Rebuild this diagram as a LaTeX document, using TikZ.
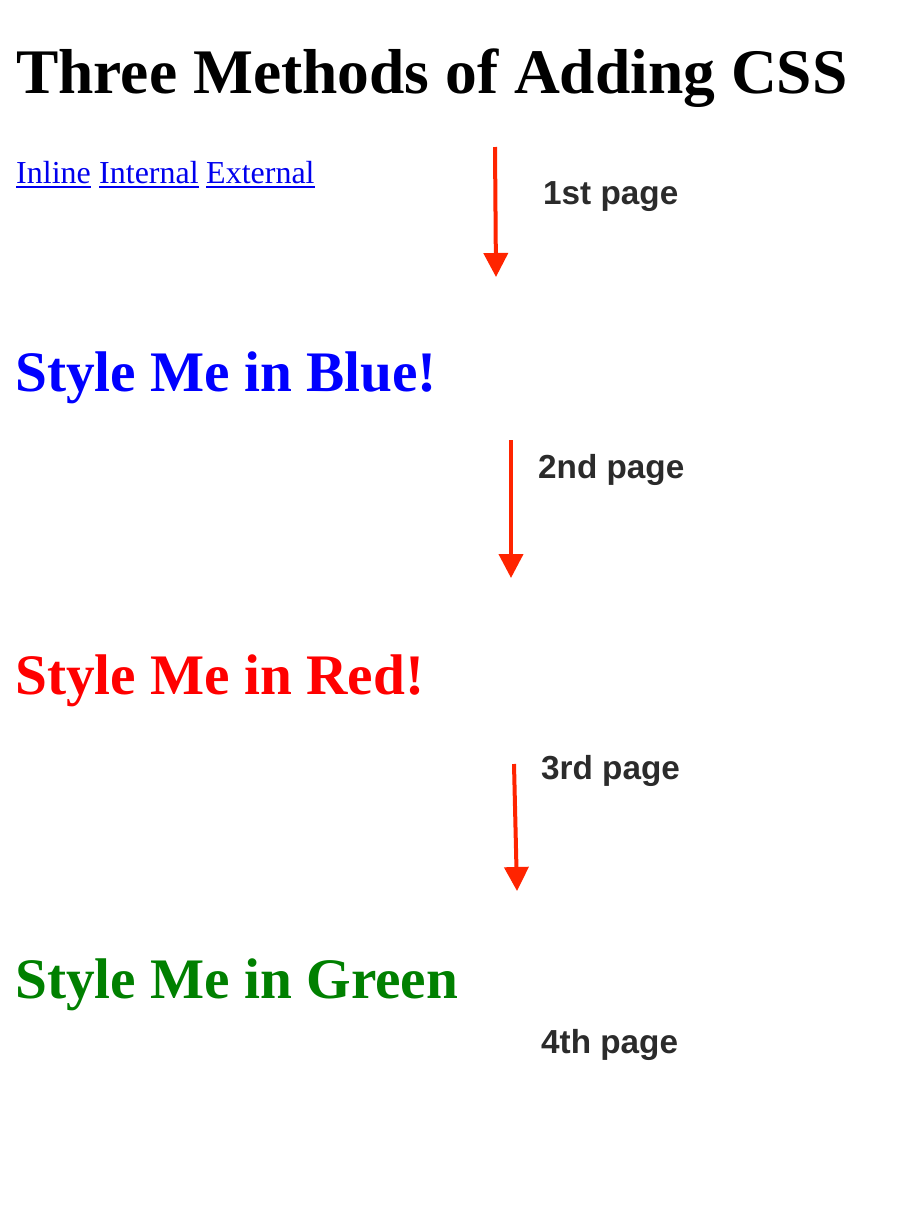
\documentclass[tikz,border=0pt]{standalone}
\usepackage{fontspec}
\setmainfont{Liberation Serif}
\newfontfamily\labelfont{Liberation Sans}
\usetikzlibrary{arrows.meta}
\definecolor{linkblue}{HTML}{0000EE}
\definecolor{cssblue}{HTML}{0000FF}
\definecolor{cssred}{HTML}{FF0000}
\definecolor{cssgreen}{HTML}{008000}
\definecolor{pagegray}{HTML}{2B2B2B}
\definecolor{arrowred}{HTML}{FF2400}
\tikzset{
  heading/.style={anchor=base west, inner sep=0pt, font=\fontsize{63.5}{63.5}\selectfont\bfseries},
  styleline/.style={anchor=base west, inner sep=0pt, font=\fontsize{57.3}{57.3}\selectfont\bfseries},
  linktext/.style={anchor=base west, inner sep=0pt, text=linkblue, font=\fontsize{32}{32}\selectfont},
  linkline/.style={draw=linkblue, line width=2pt},
  pagelabel/.style={anchor=base west, inner sep=0pt, text=pagegray, font=\fontsize{33.3}{33.3}\selectfont\labelfont\bfseries},
  flow/.style={draw=arrowred, line width=4pt, -{Triangle[width=24pt,length=24pt]}}
}
\begin{document}
\begin{tikzpicture}[x=1pt,y=-1pt]
\useasboundingbox[fill=white] (0,0) rectangle (912,1216);

% title
\node[heading] (title) at (16,93) {Three Methods of Adding CSS};

% links
\node[linktext] (inl) at (16,183) {Inline};
\node[linktext] (int) at (99,183) {Internal};
\node[linktext] (ext) at (206,183) {External};
\foreach \n in {inl,int,ext}
  \draw[linkline] ([yshift=-4pt]\n.base west) -- ([yshift=-4pt]\n.base east);

% styled headings
\node[styleline, text=cssblue] (blue) at (15,391) {Style Me in Blue!};
\node[styleline, text=cssred] (red) at (15,694) {Style Me in Red!};
\node[styleline, text=cssgreen] (green) at (15,998) {Style Me in Green};

% page labels
\node[pagelabel] (p1) at (543,204) {1st page};
\node[pagelabel] (p2) at (538,478) {2nd page};
\node[pagelabel] (p3) at (541,779) {3rd page};
\node[pagelabel] (p4) at (541,1053) {4th page};

% arrows between pages
\coordinate (a1s) at (495,147);
\coordinate (a1e) at (496,277);
\coordinate (a2s) at (511,440);
\coordinate (a2e) at (511,578);
\coordinate (a3s) at (514,764);
\coordinate (a3e) at (517,891);
\draw[flow] (a1s) -- (a1e);
\draw[flow] (a2s) -- (a2e);
\draw[flow] (a3s) -- (a3e);
\end{tikzpicture}
\end{document}
